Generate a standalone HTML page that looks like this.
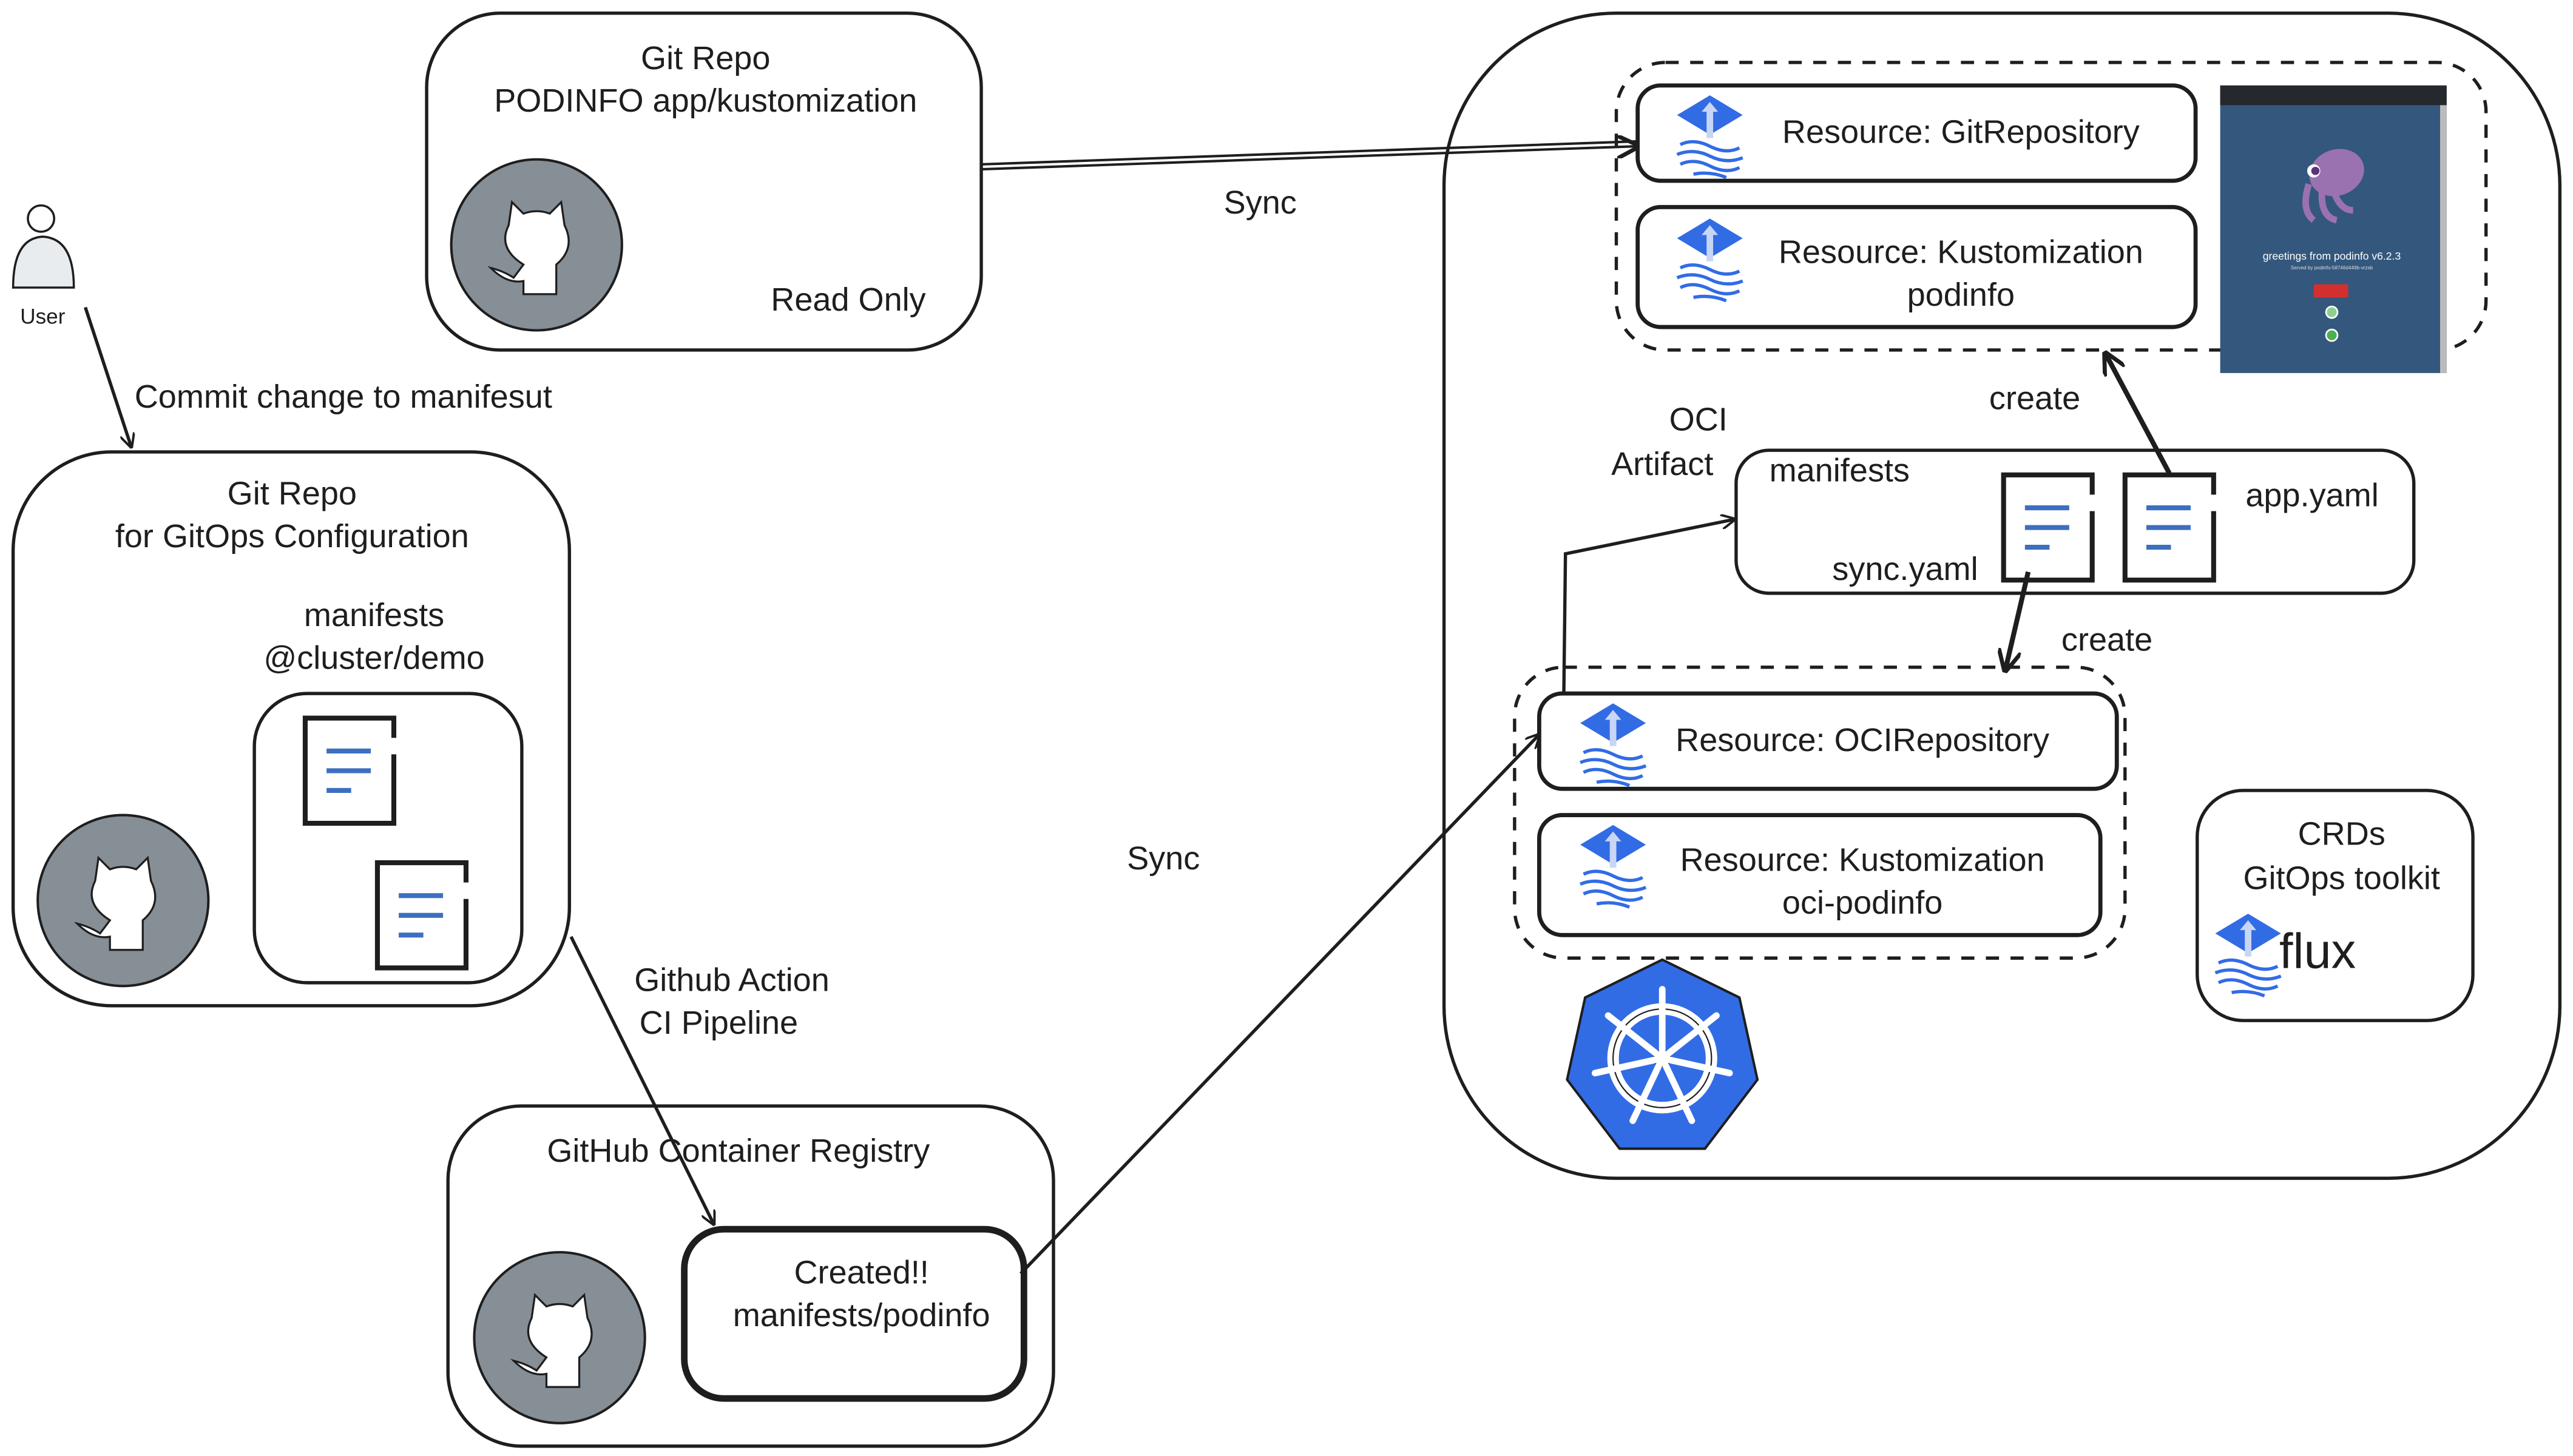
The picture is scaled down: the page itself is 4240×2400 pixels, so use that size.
<!DOCTYPE html>
<html><head><meta charset="utf-8"><style>
html,body{margin:0;padding:0;background:#fff;}
svg{display:block;}
text{font-family:"Liberation Sans","DejaVu Sans",sans-serif;fill:#1e1e1e;}
</style></head><body>
<svg width="4240" height="2400" viewBox="0 0 1568 886" preserveAspectRatio="none" xmlns="http://www.w3.org/2000/svg">
<defs>
<marker id="ah" viewBox="0 0 10 10" refX="9" refY="5" markerWidth="9" markerHeight="9" orient="auto" markerUnits="userSpaceOnUse">
<path d="M0,0 L10,5 L0,10" fill="none" stroke="#1e1e1e" stroke-width="1.6"/>
</marker>
<marker id="ahb" viewBox="0 0 10 10" refX="9" refY="5" markerWidth="14" markerHeight="14" orient="auto" markerUnits="userSpaceOnUse">
<path d="M0,0 L10,5 L0,10" fill="none" stroke="#1e1e1e" stroke-width="1.8"/>
</marker>
<g id="gh">
<circle r="52" fill="#868e96" stroke="#1e1e1e" stroke-width="1.5"/>
<path d="M-15,-26 L-8,-19 Q0,-22 8,-19 L15,-26 L17,-12 Q24,2 12,12 L12,30 L-8,30 L-8,22 Q-18,24 -28,14 Q-20,16 -14,20 L-8,12 Q-24,2 -17,-12 Z" fill="#fff" stroke="#1e1e1e" stroke-width="1.2"/>
</g>
<g id="doc">
<rect x="0" y="0" width="54" height="64" fill="#fff"/>
<path d="M54,12 L54,0 L0,0 L0,64 L54,64 L54,22" fill="none" stroke="#1e1e1e" stroke-width="3"/>
<line x1="13" y1="20" x2="40" y2="20" stroke="#3d6fc0" stroke-width="3"/>
<line x1="13" y1="32" x2="40" y2="32" stroke="#3d6fc0" stroke-width="3"/>
<line x1="13" y1="44" x2="28" y2="44" stroke="#3d6fc0" stroke-width="3"/>
</g>
<g id="flux">
<path d="M0,-22 L20,-10 L0,2 L-20,-10 Z" fill="#326ce5"/>
<path d="M0,-18 L-5,-12 L-2,-12 L-2,4 L2,4 L2,-12 L5,-12 Z" fill="#c8d6f5"/>
<path d="M-18,8 Q-10,4 0,9 Q10,14 18,10 M-20,14 Q-10,10 0,15 Q10,20 20,16 M-18,20 Q-10,16 0,21 Q10,26 18,22 M-10,26 Q0,24 10,28" fill="none" stroke="#326ce5" stroke-width="2"/>
</g>
</defs>

<rect x="260" y="8" width="338" height="205" rx="45" fill="none" stroke="#1e1e1e" stroke-width="2"/>
<text x="430" y="42" font-size="20" text-anchor="middle">Git Repo</text>
<text x="430" y="68" font-size="20" text-anchor="middle">PODINFO app/kustomization</text>
<use href="#gh" x="327" y="149"/>
<text x="517" y="189" font-size="20" text-anchor="middle">Read Only</text>

<circle cx="25" cy="133" r="8" fill="#fff" stroke="#1e1e1e" stroke-width="1.3"/>
<path d="M8,175 Q8,145 26,144 Q45,145 45,175 Z" fill="#e9ecef" stroke="#1e1e1e" stroke-width="1.3"/>
<text x="26" y="197" font-size="13" text-anchor="middle">User</text>
<line x1="52" y1="187" x2="80" y2="272" stroke="#1e1e1e" stroke-width="2" marker-end="url(#ah)"/>
<text x="82" y="248" font-size="20">Commit change to manifesut</text>

<rect x="8" y="275" width="339" height="337" rx="60" fill="none" stroke="#1e1e1e" stroke-width="2"/>
<text x="178" y="307" font-size="20" text-anchor="middle">Git Repo</text>
<text x="178" y="333" font-size="20" text-anchor="middle">for GitOps Configuration</text>
<text x="228" y="381" font-size="20" text-anchor="middle">manifests</text>
<text x="228" y="407" font-size="20" text-anchor="middle">@cluster/demo</text>
<rect x="155" y="422" width="163" height="176" rx="32" fill="none" stroke="#1e1e1e" stroke-width="2"/>
<use href="#doc" x="186" y="437"/>
<use href="#doc" x="230" y="525"/>
<use href="#gh" x="75" y="548"/>

<line x1="348" y1="570" x2="435" y2="745" stroke="#1e1e1e" stroke-width="2" marker-end="url(#ah)"/>
<text x="446" y="603" font-size="20" text-anchor="middle">Github Action</text>
<text x="438" y="629" font-size="20" text-anchor="middle">CI Pipeline</text>

<rect x="273" y="673" width="369" height="207" rx="45" fill="none" stroke="#1e1e1e" stroke-width="2"/>
<text x="450" y="707" font-size="20" text-anchor="middle">GitHub Container Registry</text>
<use href="#gh" x="341" y="814"/>
<rect x="417" y="748" width="207" height="103" rx="24" fill="#fff" stroke="#1e1e1e" stroke-width="4"/>
<text x="525" y="781" font-size="20" text-anchor="middle">Created!!</text>
<text x="525" y="807" font-size="20" text-anchor="middle">manifests/podinfo</text>

<line x1="622" y1="775" x2="938" y2="447" stroke="#1e1e1e" stroke-width="2" marker-end="url(#ah)"/>
<text x="709" y="529" font-size="20" text-anchor="middle">Sync</text>

<line x1="598" y1="100" x2="998" y2="86" stroke="#1e1e1e" stroke-width="1.5"/>
<line x1="598" y1="103" x2="998" y2="89" stroke="#1e1e1e" stroke-width="1.5" marker-end="url(#ahb)"/>
<text x="768" y="130" font-size="20" text-anchor="middle">Sync</text>

<rect x="880" y="8" width="680" height="709" rx="105" fill="none" stroke="#1e1e1e" stroke-width="2"/>

<rect x="985" y="38" width="530" height="175" rx="30" fill="none" stroke="#1e1e1e" stroke-width="2" stroke-dasharray="8,7"/>
<rect x="998" y="52" width="340" height="58" rx="14" fill="#fff" stroke="#1e1e1e" stroke-width="2.5"/>
<use href="#flux" x="1042" y="80"/>
<text x="1195" y="87" font-size="20" text-anchor="middle">Resource: GitRepository</text>
<rect x="998" y="126" width="340" height="73" rx="14" fill="#fff" stroke="#1e1e1e" stroke-width="2.5"/>
<use href="#flux" x="1042" y="155"/>
<text x="1195" y="160" font-size="20" text-anchor="middle">Resource: Kustomization</text>
<text x="1195" y="186" font-size="20" text-anchor="middle">podinfo</text>

<rect x="1353" y="52" width="138" height="175" fill="#34577d"/>
<rect x="1353" y="52" width="138" height="12" fill="#25282c"/>
<rect x="1487" y="64" width="4" height="163" fill="#bbb"/>
<ellipse cx="1424" cy="105" rx="17" ry="14" fill="#9a72b0" transform="rotate(-20 1424 105)"/>
<path d="M1407,112 Q1402,128 1410,134 M1415,116 Q1414,132 1424,134 M1422,116 Q1426,128 1434,128" stroke="#9a72b0" stroke-width="4" fill="none"/>
<circle cx="1410" cy="104" r="4" fill="#fff"/><circle cx="1411" cy="104" r="2.5" fill="#5a3475"/>
<text x="1421" y="158" font-size="6.5" text-anchor="middle" style="fill:#fff">greetings from podinfo v6.2.3</text>
<text x="1421" y="164" font-size="3" text-anchor="middle" style="fill:#ddd">Served by podinfo-58746d449b-vrzsb</text>
<rect x="1410" y="173" width="21" height="8" fill="#d32f2f"/>
<circle cx="1421" cy="190" r="3.5" fill="#8fce8f" stroke="#fff"/>
<circle cx="1421" cy="204" r="3.5" fill="#4caf50" stroke="#fff"/>

<text x="1240" y="249" font-size="20" text-anchor="middle">create</text>
<line x1="1322" y1="288" x2="1283" y2="215" stroke="#1e1e1e" stroke-width="3" marker-end="url(#ahb)"/>

<text x="1035" y="262" font-size="20" text-anchor="middle">OCI</text>
<text x="1013" y="289" font-size="20" text-anchor="middle">Artifact</text>

<rect x="1058" y="274" width="413" height="87" rx="20" fill="none" stroke="#1e1e1e" stroke-width="2"/>
<text x="1121" y="293" font-size="20" text-anchor="middle">manifests</text>
<text x="1161" y="353" font-size="20" text-anchor="middle">sync.yaml</text>
<text x="1409" y="308" font-size="20" text-anchor="middle">app.yaml</text>
<use href="#doc" x="1221" y="289"/>
<use href="#doc" x="1295" y="289"/>

<line x1="1236" y1="348" x2="1222" y2="408" stroke="#1e1e1e" stroke-width="3" marker-end="url(#ahb)"/>
<text x="1284" y="396" font-size="20" text-anchor="middle">create</text>

<polyline points="953,422 954,337 1057,316" fill="none" stroke="#1e1e1e" stroke-width="2" marker-end="url(#ah)"/>

<rect x="923" y="406" width="372" height="177" rx="30" fill="none" stroke="#1e1e1e" stroke-width="2" stroke-dasharray="8,7"/>
<rect x="938" y="422" width="352" height="58" rx="14" fill="#fff" stroke="#1e1e1e" stroke-width="2.5"/>
<use href="#flux" x="983" y="450"/>
<text x="1135" y="457" font-size="20" text-anchor="middle">Resource: OCIRepository</text>
<rect x="938" y="496" width="342" height="73" rx="14" fill="#fff" stroke="#1e1e1e" stroke-width="2.5"/>
<use href="#flux" x="983" y="524"/>
<text x="1135" y="530" font-size="20" text-anchor="middle">Resource: Kustomization</text>
<text x="1135" y="556" font-size="20" text-anchor="middle">oci-podinfo</text>

<g transform="translate(1013,644)">
<polygon points="0,-60 47,-37 58,13 26,55 -26,55 -58,13 -47,-37" fill="#326ce5" stroke="#1e1e1e" stroke-width="1.5"/>
<circle r="30" fill="none" stroke="#fff" stroke-width="7"/>
<circle r="30" fill="none" stroke="#1e1e1e" stroke-width="0.8"/>
<circle r="5" fill="#fff" stroke="#1e1e1e" stroke-width="0.8"/>
<g stroke="#fff" stroke-width="4" stroke-linecap="round">
<line x1="0" y1="0" x2="0" y2="-42"/>
<line x1="0" y1="0" x2="33" y2="-26"/>
<line x1="0" y1="0" x2="41" y2="9"/>
<line x1="0" y1="0" x2="18" y2="38"/>
<line x1="0" y1="0" x2="-18" y2="38"/>
<line x1="0" y1="0" x2="-41" y2="9"/>
<line x1="0" y1="0" x2="-33" y2="-26"/>
</g>
</g>

<rect x="1339" y="481" width="168" height="140" rx="28" fill="none" stroke="#1e1e1e" stroke-width="2"/>
<text x="1427" y="514" font-size="20" text-anchor="middle">CRDs</text>
<text x="1427" y="541" font-size="20" text-anchor="middle">GitOps toolkit</text>
<use href="#flux" x="1370" y="578"/>
<text x="1389" y="589" font-size="30">flux</text>
</svg>
</body></html>
